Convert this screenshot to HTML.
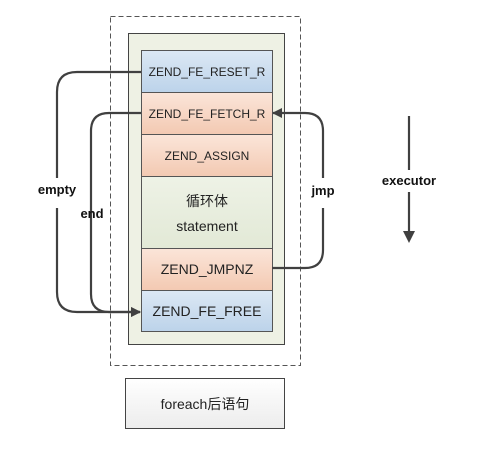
<!DOCTYPE html>
<html><head><meta charset="utf-8"><style>
body{margin:0;background:#fff;}
svg{display:block;font-family:"Liberation Sans","Noto Sans CJK SC",sans-serif;}
</style></head><body>
<svg width="482" height="451" viewBox="0 0 482 451" xmlns="http://www.w3.org/2000/svg">
<defs>
<linearGradient id="bl" x1="0" y1="0" x2="0" y2="1"><stop offset="0" stop-color="#dce8f4"/><stop offset="1" stop-color="#bcd3ea"/></linearGradient>
<linearGradient id="or" x1="0" y1="0" x2="0" y2="1"><stop offset="0" stop-color="#fbe5d9"/><stop offset="1" stop-color="#f3c9b2"/></linearGradient>
<linearGradient id="gr" x1="0" y1="0" x2="0" y2="1"><stop offset="0" stop-color="#eef2e6"/><stop offset="1" stop-color="#e2e9d6"/></linearGradient>
<linearGradient id="wh" x1="0" y1="0" x2="0" y2="1"><stop offset="0" stop-color="#ffffff"/><stop offset="1" stop-color="#ececec"/></linearGradient>
<marker id="ah" markerWidth="10" markerHeight="10" refX="9" refY="5" orient="auto" markerUnits="userSpaceOnUse"><path d="M0,0 L10,5 L0,10 z" fill="#404040"/></marker>
</defs>
<rect x="110.5" y="16.5" width="190" height="349" fill="#fff" stroke="#555" stroke-dasharray="5,3"/>
<rect x="128.5" y="33.5" width="156" height="311" fill="#eef1e4" stroke="#444"/>
<rect x="141.5" y="50.5" width="131" height="42" fill="url(#bl)" stroke="#555"/>
<rect x="141.5" y="92.5" width="131" height="42" fill="url(#or)" stroke="#555"/>
<rect x="141.5" y="134.5" width="131" height="42" fill="url(#or)" stroke="#555"/>
<rect x="141.5" y="176.5" width="131" height="72" fill="url(#gr)" stroke="#555"/>
<rect x="141.5" y="248.5" width="131" height="42" fill="url(#or)" stroke="#555"/>
<rect x="141.5" y="290.5" width="131" height="41" fill="url(#bl)" stroke="#555"/>
<g fill="#222" text-anchor="middle" font-size="12">
<text x="207" y="76">ZEND_FE_RESET_R</text>
<text x="207" y="118">ZEND_FE_FETCH_R</text>
<text x="207" y="160">ZEND_ASSIGN</text>
<text x="207" y="206" font-size="14">循环体</text>
<text x="207" y="231" font-size="14">statement</text>
<text x="207" y="274" font-size="14">ZEND_JMPNZ</text>
<text x="207" y="316" font-size="14">ZEND_FE_FREE</text>
</g>
<g fill="none" stroke="#404040" stroke-width="2.2">
<path d="M141,72 L77,72 Q57,72 57,92 L57,292 Q57,312 77,312 L140,312" marker-end="url(#ah)"/>
<path d="M141,113 L109,113 Q91,113 91,131 L91,294 Q91,312 109,312 L140,312" marker-end="url(#ah)"/>
<path d="M272,268 L305,268 Q323,268 323,250 L323,131 Q323,113 305,113 L273,113" marker-end="url(#ah)"/>
<path d="M409,116 L409,170 M409,192 L409,233"/>
</g>
<path d="M403,231 L415,231 L409,243 z" fill="#404040"/>
<rect x="52" y="178" width="12" height="30" fill="#fff"/>
<rect x="318" y="178" width="12" height="30" fill="#fff"/>
<g font-weight="bold" font-size="13" fill="#111" text-anchor="middle">
<text x="57" y="194">empty</text>
<text x="92" y="218">end</text>
<text x="323" y="195">jmp</text>
<text x="409" y="185">executor</text>
</g>
<rect x="125.5" y="378.5" width="159" height="50" fill="url(#wh)" stroke="#444"/>
<text x="205" y="409" font-size="14" fill="#222" text-anchor="middle">foreach后语句</text>
</svg>
</body></html>
